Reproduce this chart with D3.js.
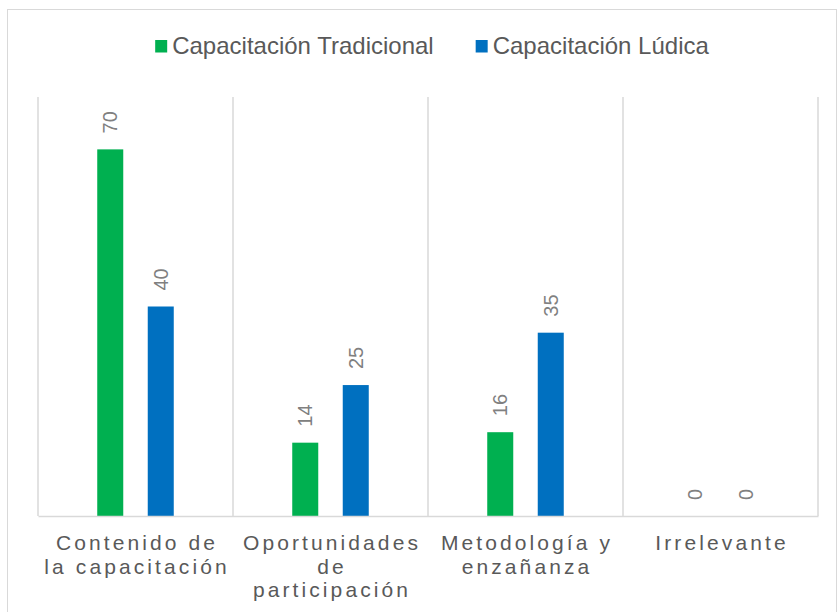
<!DOCTYPE html>
<html>
<head>
<meta charset="utf-8">
<script src="https://cdn.jsdelivr.net/npm/d3@7"></script>
<style>
  body { margin: 0; background: #fff; }
  text { font-family: "Liberation Sans", Arial, sans-serif; }
</style>
</head>
<body>
<svg id="chart" width="837" height="612"></svg>
<script>
const categories = ["Contenido de la capacitación", "Oportunidades de participación", "Metodología y enzañanza", "Irrelevante"];
const categoryLines = [["Contenido de", "la capacitación"], ["Oportunidades", "de", "participación"], ["Metodología y", "enzañanza"], ["Irrelevante"]];
const seriesNames = ["Capacitación Tradicional", "Capacitación Lúdica"];
const tradicional = [70, 14, 16, 0];
const ludica = [40, 25, 35, 0];
const colors = ["#00b050", "#0070c0"];

const svg = d3.select("#chart");
const width = +svg.attr("width");
const height = +svg.attr("height");
const margin = { top: 97, right: 19, bottom: 96, left: 38 };

// chart frame
svg.append("rect")
    .attr("x", 7.5).attr("y", 9.5)
    .attr("width", 829).attr("height", 620)
    .attr("fill", "none").attr("stroke", "#d9d9d9").attr("stroke-width", 1);

const x = d3.scaleBand().domain(categories).range([margin.left, width - margin.right]);
const x1 = d3.scaleBand().domain(seriesNames).range([0, x.bandwidth()]).paddingInner(0.485).paddingOuter(1.173);
const y = d3.scaleLinear().domain([0, 80]).range([height - margin.bottom, margin.top]);

// vertical separators
const bounds = categories.map(c => x(c)).concat([x(categories[categories.length - 1]) + x.bandwidth()]);
svg.append("g").selectAll("line").data(bounds).enter().append("line")
    .attr("x1", d => d).attr("x2", d => d)
    .attr("y1", y(80)).attr("y2", y(0))
    .attr("stroke", "#d9d9d9").attr("stroke-width", 1.5);

const rows = categories.map((c, i) => ({ cat: c, values: [tradicional[i], ludica[i]] }));

const groups = svg.append("g").selectAll("g").data(rows).enter().append("g")
    .attr("transform", d => `translate(${x(d.cat)},0)`);

groups.selectAll("rect").data(d => d.values.map((v, j) => ({ s: seriesNames[j], v: v, j: j }))).enter()
    .append("rect")
    .attr("x", d => x1(d.s))
    .attr("width", x1.bandwidth())
    .attr("y", d => y(d.v))
    .attr("height", d => y(0) - y(d.v))
    .attr("fill", d => colors[d.j]);

groups.selectAll("text").data(d => d.values.map((v, j) => ({ s: seriesNames[j], v: v }))).enter()
    .append("text")
    .attr("transform", d => `translate(${x1(d.s) + x1.bandwidth() / 2 + 7},${y(d.v) - 16}) rotate(-90)`)
    .attr("font-size", 20)
    .attr("fill", "#808080")
    .text(d => d.v);

// baseline + category axis
const xAxis = svg.append("g")
    .attr("transform", `translate(0,${y(0)})`)
    .call(d3.axisBottom(x).tickSize(0).tickPadding(0));
xAxis.select(".domain").attr("stroke", "#d9d9d9").attr("stroke-width", 1.5);
xAxis.selectAll(".tick text").each(function (d, i) {
    const t = d3.select(this).text(null)
        .attr("y", 0).attr("dy", null)
        .attr("font-size", 21)
        .attr("letter-spacing", "3.1px")
        .attr("fill", "#595959");
    categoryLines[i].forEach((line, k) => {
        t.append("tspan").attr("x", 1.5).attr("y", 34 + k * 23.5).text(line);
    });
});

// legend
const legend = svg.append("g");
let lx = 0;
seriesNames.forEach((name, i) => {
    const item = legend.append("g").attr("transform", `translate(${lx},0)`);
    item.append("rect").attr("x", 0).attr("y", 40).attr("width", 12).attr("height", 12.5).attr("fill", colors[i]);
    const t = item.append("text").attr("x", 17).attr("y", 53.5)
        .attr("font-size", 24).attr("fill", "#595959").text(name);
    lx += 17 + t.node().getComputedTextLength() + 42;
});
const legendWidth = lx - 42;
legend.attr("transform", `translate(${432 - legendWidth / 2},0)`);
</script>
</body>
</html>
